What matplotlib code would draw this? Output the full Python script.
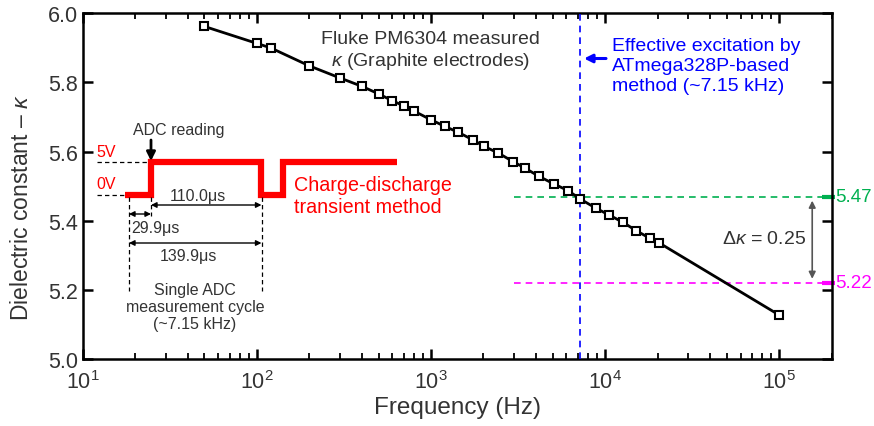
import matplotlib
matplotlib.use("Agg")
import matplotlib.pyplot as plt
from matplotlib.ticker import LogLocator, FixedLocator, NullFormatter, LogFormatterMathtext
import matplotlib.transforms as mtransforms

plt.rcParams['font.family'] = ['Liberation Sans', 'DejaVu Sans']
plt.rcParams['mathtext.fontset'] = 'custom'
plt.rcParams['mathtext.rm'] = 'Liberation Sans'
plt.rcParams['mathtext.it'] = 'Liberation Sans:italic'
plt.rcParams['mathtext.bf'] = 'Liberation Sans:bold'

# ---- data ----
freq_hz = [50, 100, 120, 200, 300, 400, 500, 600, 700, 800, 1000, 1200, 1430, 1740,
           2020, 2430, 2960, 3470, 4180, 5100, 6130, 7180, 8870, 10500, 12700, 15100,
           18100, 20400, 100000]
kappa = [5.962, 5.913, 5.900, 5.848, 5.813, 5.789, 5.767, 5.747, 5.732, 5.717, 5.692,
         5.673, 5.656, 5.634, 5.615, 5.596, 5.571, 5.552, 5.528, 5.506, 5.487, 5.463,
         5.436, 5.417, 5.395, 5.371, 5.349, 5.336, 5.127]
excitation_hz = 7150
kappa_hi = 5.47
kappa_lo = 5.22
ref_start_hz = 3000
y_ticks = [5.0, 5.2, 5.4, 5.6, 5.8, 6.0]
x_ticks = [1e1, 1e2, 1e3, 1e4, 1e5]

TXT = '#333333'
GREEN = '#00b050'
MAG = '#ff00ff'
BLUE = '#0000ff'
RED = '#ff0000'

fig = plt.figure(figsize=(8.74, 4.27), dpi=100)
ax = fig.add_axes([82.7/874, 1-360/427, (831.7-82.7)/874, (360-14.3)/427])

ax.plot(freq_hz, kappa, '-', color='black', lw=2, marker='s', ms=6,
        mfc='white', mec='black', mew=1.5, zorder=5)

ax.set_xscale('log')
ax.set_xlim(10, 2e5)
ax.set_ylim(5.0, 6.0)
ax.xaxis.set_major_locator(FixedLocator(x_ticks))
ax.xaxis.set_major_formatter(LogFormatterMathtext())
ax.xaxis.set_minor_locator(LogLocator(base=10, subs=range(2, 10), numticks=20))
ax.xaxis.set_minor_formatter(NullFormatter())
ax.yaxis.set_major_locator(FixedLocator(y_ticks))
ax.yaxis.set_major_formatter(matplotlib.ticker.FormatStrFormatter('%.1f'))
ax.tick_params(which='both', direction='in', top=True, right=True, width=1.8, colors='black',
               labelcolor=TXT, labelsize=15.5)
ax.tick_params(which='major', length=7.5)
ax.tick_params(which='minor', length=4.3, width=1.3)
ax.tick_params(axis='x', pad=8)
for s in ax.spines.values():
    s.set_linewidth(1.8)

ax.set_xlabel('Frequency (Hz)', fontsize=17.5, color=TXT, labelpad=2)
ax.set_ylabel('Dielectric constant – $\\kappa$', fontsize=16.5, color=TXT)
ax.yaxis.set_label_coords(-0.066, 0.44)

# excitation line
ax.axvline(excitation_hz, color=BLUE, lw=1.2, ls=(0, (4, 3)), zorder=3)
# reference lines
ax.plot([ref_start_hz, 2e5], [kappa_hi, kappa_hi], color=GREEN, lw=1.2, ls=(0, (4, 3)))
ax.plot([ref_start_hz, 2e5], [kappa_lo, kappa_lo], color=MAG, lw=1.2, ls=(0, (4, 3)))
btr = mtransforms.blended_transform_factory(ax.transAxes, ax.transData)
ax.plot([0.987, 1.005], [kappa_hi, kappa_hi], color=GREEN, lw=3, transform=btr, clip_on=False, solid_capstyle='butt')
ax.plot([0.987, 1.005], [kappa_lo, kappa_lo], color=MAG, lw=3, transform=btr, clip_on=False, solid_capstyle='butt')
ax.text(1.0045, kappa_hi, f'{kappa_hi:.2f}', transform=btr, color=GREEN, fontsize=13.5, va='center', ha='left')
ax.text(1.0045, kappa_lo, f'{kappa_lo:.2f}', transform=btr, color=MAG, fontsize=13.5, va='center', ha='left')

# delta kappa arrow
ax.annotate('', xy=(0.974, kappa_lo + 0.012), xytext=(0.974, kappa_hi - 0.012),
            xycoords=btr, textcoords=btr,
            arrowprops=dict(arrowstyle='<|-|>', color='#555555', lw=1.2,
                            mutation_scale=10, shrinkA=0, shrinkB=0))
ax.text(0.91, (kappa_hi + kappa_lo) / 2 + 0.005, f'Δ$\\kappa$ = {kappa_hi - kappa_lo:.2f}', transform=btr,
        color=TXT, fontsize=14, ha='center', va='center')

# overlay in pixel coords for annotations / schematic
ov = fig.add_axes([0, 0, 1, 1], facecolor='none')
ov.set_xlim(0, 874)
ov.set_ylim(427, 0)
ov.axis('off')

ov.text(430.8, 51.5, 'Fluke PM6304 measured\n$\\kappa$ (Graphite electrodes)', color=TXT, fontsize=14,
        ha='center', va='center', multialignment='center', linespacing=1.22)
ov.text(611.5, 66.7, 'Effective excitation by\nATmega328P-based\nmethod (~7.15 kHz)', color=BLUE,
        fontsize=14, ha='left', va='center', linespacing=1.22)
ov.annotate('', xy=(584, 59.5), xytext=(606, 59.5),
            arrowprops=dict(arrowstyle='-|>', color=BLUE, lw=2.2, mutation_scale=12,
                            shrinkA=0, shrinkB=0))

# waveform schematic
wx = [125, 151, 151, 261, 261, 282.5, 282.5, 397]
wy = [195.5, 195.5, 163, 163, 195.5, 195.5, 163, 163]
ov.plot(wx, wy, color=RED, lw=4.5, solid_joinstyle='miter', solid_capstyle='butt')
dash = (0, (3.5, 2.5))
ov.plot([97, 148], [163, 163], color='black', lw=0.9, ls=dash)
ov.plot([97, 124], [195.5, 195.5], color='black', lw=0.9, ls=dash)
ov.plot([129, 129], [198, 292], color='black', lw=0.9, ls=dash)
ov.plot([151, 151], [198, 217], color='black', lw=0.9, ls=dash)
ov.plot([261.5, 261.5], [198, 292], color='black', lw=0.9, ls=dash)
ov.text(106.5, 152.7, '5V', color=RED, fontsize=11.5, ha='center', va='center')
ov.text(106.5, 184.5, '0V', color=RED, fontsize=11.5, ha='center', va='center')
ov.text(179, 130.7, 'ADC reading', color=TXT, fontsize=11.5, ha='center', va='center')
ov.annotate('', xy=(151, 162), xytext=(151, 141),
            arrowprops=dict(arrowstyle='-|>', color='black', lw=2, mutation_scale=13,
                            shrinkA=0, shrinkB=0))
for (x0, x1, yy) in [(151, 261.5, 206), (129, 151, 215), (129, 261.5, 244)]:
    ov.annotate('', xy=(x1, yy), xytext=(x0, yy),
                arrowprops=dict(arrowstyle='<|-|>', color='black', lw=1.0, mutation_scale=8,
                                shrinkA=0, shrinkB=0))
ov.text(198.3, 196.5, '110.0μs', color=TXT, fontsize=11.5, ha='center', va='center')
ov.text(155, 228.5, '29.9μs', color=TXT, fontsize=11.5, ha='center', va='center')
ov.text(188.3, 256.5, '139.9μs', color=TXT, fontsize=11.5, ha='center', va='center')
ov.text(195, 307.5, 'Single ADC\nmeasurement cycle\n(~7.15 kHz)', color=TXT, fontsize=11.5,
        ha='center', va='center', multialignment='center', linespacing=1.2)
ov.text(294, 196.5, 'Charge-discharge\ntransient method', color=RED, fontsize=14.2,
        ha='left', va='center', linespacing=1.2)

fig.savefig('out.png', dpi=100)
